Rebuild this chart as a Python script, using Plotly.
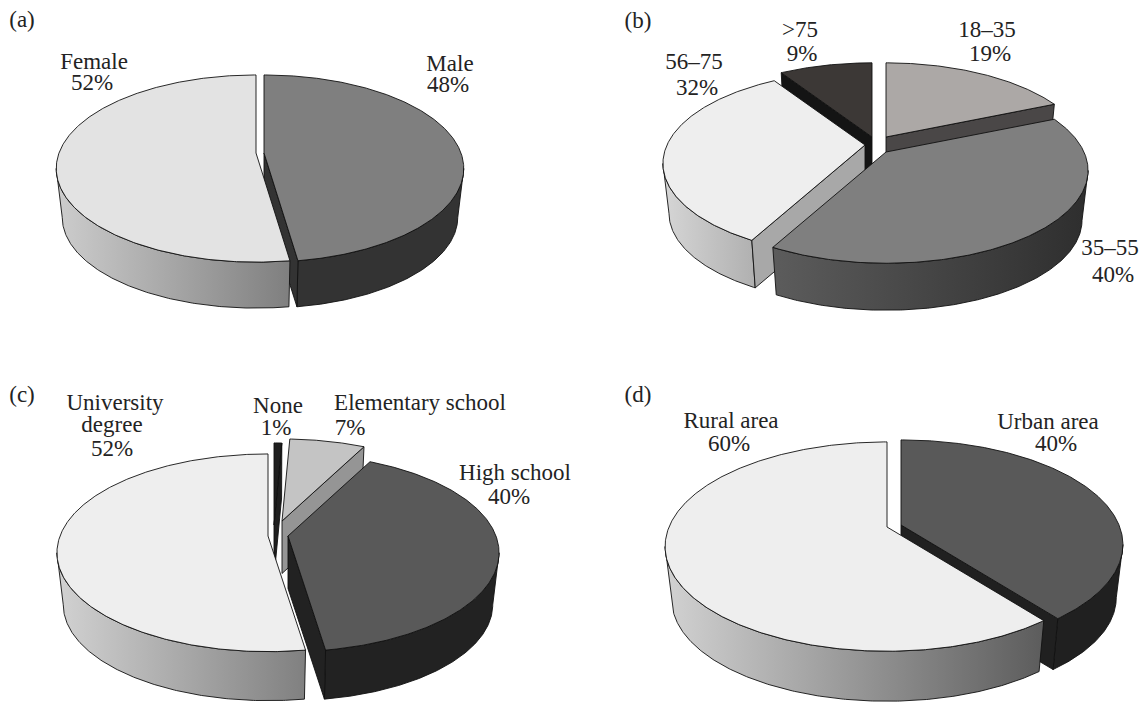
import numpy as np
import plotly.graph_objects as go

# ---- data ----
panel_a_names = ["Male", "Female"]
panel_a_labels = [48, 52]
panel_a_shares = [47.7, 52.3]

panel_b_names = ["18–35", "35–55", "56–75", ">75"]
panel_b_labels = [19, 40, 32, 9]
panel_b_shares = [18.5, 39.3, 33.2, 9.0]

panel_c_names = ["None", "Elementary school", "High school", "University degree"]
panel_c_labels = [1, 7, 40, 52]
panel_c_shares = [0.7, 6.8, 40.1, 52.4]

panel_d_names = ["Urban area", "Rural area"]
panel_d_labels = [40, 60]
panel_d_shares = [39.5, 60.5]

# ---- styling / layout ----
FONT = "Liberation Serif"
FS = 23
TXT = "#232323"
EDGE = "#111111"
BOTTOM_SCALE = 0.97


def ang_range(start, stop):
    n = max(int(abs(stop - start) / 0.5), 2)
    return np.linspace(start, stop, n + 1)


def project(theta, geom, apex, bottom=False):
    t = np.radians(theta)
    u, v = np.sin(t), np.cos(t)
    k = 1.0 / (1.0 + geom["p"] * v)
    ax, ay = apex
    s = 1.0
    if bottom:
        s = BOTTOM_SCALE
        ay = ay + geom["d"] + (1 - BOTTOM_SCALE) * geom["S"] / (1 - geom["p"])
    return ax + s * geom["R"] * u * k, ay - s * geom["S"] * v * k


def apex_bottom(geom, apex):
    return apex[0], apex[1] + geom["d"] + (1 - BOTTOM_SCALE) * geom["S"] / (1 - geom["p"])


def add_poly(fig, x, y, fill, gradient=None):
    x = np.append(x, x[0])
    y = np.append(y, y[0])
    kw = dict(x=x, y=y, mode="lines", fill="toself", hoverinfo="skip",
              line=dict(color=EDGE, width=0.9), showlegend=False)
    if gradient:
        kw["fillgradient"] = dict(type="horizontal",
                                  colorscale=[[0, gradient[0]], [1, gradient[1]]])
    else:
        kw["fillcolor"] = fill
    fig.add_trace(go.Scatter(**kw))


def add_wedge(fig, t1, t2, geom, apex, top, radial, wall):
    # outer wall, from silhouette point to silhouette point
    ext = 90 + np.degrees(np.arcsin(geom["p"]))
    a = max(t1, ext)
    b = min(t2, 360 - ext)
    if b > a:
        th = ang_range(a, b)
        xt, yt = project(th, geom, apex)
        xb, yb = project(th[::-1], geom, apex, bottom=True)
        add_poly(fig, np.r_[xt, xb], np.r_[yt, yb], None,
                 gradient=wall if isinstance(wall, tuple) else (wall, wall))
    # radial walls facing the viewer
    ab = apex_bottom(geom, apex)
    for t, vis in ((t1, np.sin(np.radians(t1)) < -1e-6), (t2, np.sin(np.radians(t2)) > 1e-6)):
        if vis:
            xt, yt = project(t, geom, apex)
            xb, yb = project(t, geom, apex, bottom=True)
            add_poly(fig, np.array([apex[0], xt, xb, ab[0]]),
                     np.array([apex[1], yt, yb, ab[1]]), radial)
    # top
    th = ang_range(t1, t2)
    xt, yt = project(th, geom, apex)
    add_poly(fig, np.r_[apex[0], xt], np.r_[apex[1], yt], top)


def draw_pie(fig, shares, geom, slices, order):
    edges = np.r_[0, np.cumsum(shares)] * 3.6
    for i in order:
        s = slices[i]
        add_wedge(fig, edges[i], edges[i + 1], geom, s["apex"], s["top"], s["radial"], s["wall"])


fig = go.Figure()

draw_pie(fig, panel_a_shares, dict(p=0.166, S=91, R=197, d=46), [
    dict(apex=(264, 153), top="#7f7f7f", radial="#333333", wall="#333333"),
    dict(apex=(256, 153), top="#e3e3e3", radial="#999999", wall=("#cdcdcd", "#7f7f7f")),
], [0, 1])

draw_pie(fig, panel_b_shares, dict(p=0.2, S=89, R=198, d=47), [
    dict(apex=(886, 137), top="#aca8a6", radial="#4a4747", wall="#4a4747"),
    dict(apex=(886, 152), top="#7f7f7f", radial="#333333", wall=("#5c5c5c", "#2e2e2e")),
    dict(apex=(865, 145), top="#eeeeee", radial="#a8a8a8", wall=("#d6d6d6", "#b0b0b0")),
    dict(apex=(872, 137), top="#3c3836", radial="#141414", wall="#141414"),
], [0, 3, 2, 1])

draw_pie(fig, panel_c_shares, dict(p=0.17, S=96, R=208, d=49), [
    dict(apex=(274, 525), top="#1f1f1f", radial="#1f1f1f", wall="#1f1f1f"),
    dict(apex=(282, 521), top="#c4c4c4", radial="#959595", wall="#959595"),
    dict(apex=(288, 536), top="#595959", radial="#222222", wall="#222222"),
    dict(apex=(268, 536), top="#eeeeee", radial="#888888", wall=("#d2d2d2", "#808080")),
], [0, 1, 2, 3])

draw_pie(fig, panel_d_shares, dict(p=0.187, S=101, R=218, d=50), [
    dict(apex=(901, 525), top="#595959", radial="#202020", wall="#202020"),
    dict(apex=(887, 527), top="#eeeeee", radial="#666666", wall=("#d2d2d2", "#5c5c5c")),
], [0, 1])

# ---- text ----
texts = [
    ("(a)", 22, 21), ("(b)", 638, 22), ("(c)", 22, 396), ("(d)", 638, 396),
    (panel_a_names[1], 94, 63), (f"{panel_a_labels[1]}%", 92, 84),
    (panel_a_names[0], 450, 65), (f"{panel_a_labels[0]}%", 448, 86),
    (panel_b_names[3], 800, 31), (f"{panel_b_labels[3]}%", 802, 55),
    (panel_b_names[0], 987, 31), (f"{panel_b_labels[0]}%", 990, 55),
    (panel_b_names[2], 694, 63), (f"{panel_b_labels[2]}%", 697, 89),
    (panel_b_names[1], 1110, 249), (f"{panel_b_labels[1]}%", 1113, 276),
    ("University", 115, 404), ("degree", 112, 426), (f"{panel_c_labels[3]}%", 112, 450),
    (panel_c_names[0], 278, 407), (f"{panel_c_labels[0]}%", 276, 429),
    (panel_c_names[1], 420, 404), (f"{panel_c_labels[1]}%", 350, 429),
    (panel_c_names[2], 515, 474), (f"{panel_c_labels[2]}%", 509, 498),
    (panel_d_names[1], 731, 422), (f"{panel_d_labels[1]}%", 729, 445),
    (panel_d_names[0], 1048, 423), (f"{panel_d_labels[0]}%", 1056, 445),
]
fig.add_trace(go.Scatter(
    x=[t[1] for t in texts], y=[t[2] for t in texts], text=[t[0] for t in texts],
    mode="text", textposition="middle center", hoverinfo="skip", showlegend=False,
    cliponaxis=False, textfont=dict(family=FONT, size=FS, color=TXT),
))

fig.update_layout(
    width=1143, height=702, autosize=False,
    margin=dict(l=0, r=0, t=0, b=0),
    paper_bgcolor="white", plot_bgcolor="white",
    xaxis=dict(range=[0, 1143], visible=False, fixedrange=True),
    yaxis=dict(range=[702, 0], visible=False, fixedrange=True),
)
fig.write_html("out.html", config={"displayModeBar": False},
               post_script="document.body.style.margin='0';")
